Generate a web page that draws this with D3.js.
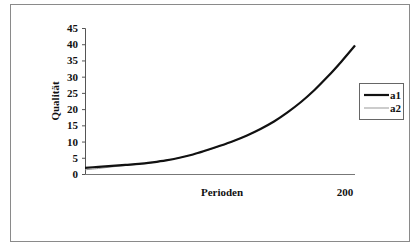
<!DOCTYPE html>
<html>
<head>
<meta charset="utf-8">
<script src="https://cdn.jsdelivr.net/npm/d3@7"></script>
<style>
  body { margin: 0; background: #fff; }
  svg text { font-family: "Liberation Serif", "Times New Roman", serif; font-weight: bold; fill: #111; }
</style>
</head>
<body>
<div id="chart"></div>
<script>
// Values
const periods = [0, 10, 20, 30, 40, 50, 60, 70, 80, 90, 100, 110, 120, 130, 140, 150, 160, 170, 180, 190, 200];
const a1 = [1.9, 2.2, 2.5, 2.8, 3.1, 3.6, 4.2, 5.0, 6.0, 7.3, 8.7, 10.2, 11.9, 13.9, 16.2, 19.0, 22.2, 25.9, 30.1, 34.7, 39.6];
const a2 = [1.3, 1.7, 2.2, 2.6, 3.0, 3.5, 4.2, 5.0, 6.0, 7.2, 8.6, 10.1, 11.9, 13.9, 16.2, 19.0, 22.2, 25.9, 30.1, 34.7, 39.6];
const yTicks = [0, 5, 10, 15, 20, 25, 30, 35, 40, 45];
const seriesNames = ["a1", "a2"];

const width = 414, height = 246;

const svg = d3.select("#chart")
  .append("svg")
  .attr("width", width)
  .attr("height", height);

// outer frame
svg.append("rect")
  .attr("x", 10.5).attr("y", 4.5)
  .attr("width", 399).attr("height", 237)
  .attr("fill", "none")
  .attr("stroke", "#8a8a8a")
  .attr("stroke-width", 1);

const x = d3.scaleLinear().domain([0, 200]).range([85, 355]);
const y = d3.scaleLinear().domain([0, 45]).range([174, 28]);

// y axis
const yAxis = svg.append("g")
  .attr("transform", "translate(85,0)")
  .call(d3.axisLeft(y).tickValues(yTicks).tickSize(3).tickPadding(4));
yAxis.select(".domain").attr("stroke", "#555");
yAxis.selectAll(".tick line").attr("stroke", "#555");
yAxis.selectAll(".tick text")
  .style("font-size", "11px")
  .style("font-family", "Liberation Serif, serif")
  .style("font-weight", "bold")
  .attr("fill", "#111");

// x axis line
svg.append("line")
  .attr("x1", x(0)).attr("x2", x(200))
  .attr("y1", y(0) + 0.5).attr("y2", y(0) + 0.5)
  .attr("stroke", "#777")
  .attr("stroke-width", 1);

svg.append("text")
  .attr("x", x(200) - 10).attr("y", 196)
  .attr("text-anchor", "middle")
  .style("font-size", "11px")
  .text("200");

svg.append("text")
  .attr("x", 222).attr("y", 196)
  .attr("text-anchor", "middle")
  .style("font-size", "11px")
  .text("Perioden");

svg.append("text")
  .attr("transform", "translate(59,101) rotate(-90)")
  .attr("text-anchor", "middle")
  .style("font-size", "11px")
  .text("Qualität");

const line = d3.line()
  .x((d, i) => x(periods[i]))
  .y(d => y(d))
  .curve(d3.curveCatmullRom);

svg.append("path")
  .datum(a2)
  .attr("d", line)
  .attr("fill", "none")
  .attr("stroke", "#999")
  .attr("stroke-width", 1);

svg.append("path")
  .datum(a1)
  .attr("d", line)
  .attr("fill", "none")
  .attr("stroke", "#111")
  .attr("stroke-width", 2.2);

// legend
const legend = svg.append("g");
legend.append("rect")
  .attr("x", 359.5).attr("y", 83.5)
  .attr("width", 44).attr("height", 36)
  .attr("fill", "#fff")
  .attr("stroke", "#666");

const legendItems = legend.selectAll("g.item")
  .data(seriesNames)
  .join("g")
  .attr("class", "item")
  .attr("transform", (d, i) => `translate(0,${95 + i * 13})`);

legendItems.append("line")
  .attr("x1", 364).attr("x2", 389)
  .attr("stroke", (d, i) => i === 0 ? "#111" : "#999")
  .attr("stroke-width", (d, i) => i === 0 ? 2.2 : 1);

legendItems.append("text")
  .attr("x", 390).attr("y", 4)
  .style("font-size", "11px")
  .text(d => d);
</script>
</body>
</html>
